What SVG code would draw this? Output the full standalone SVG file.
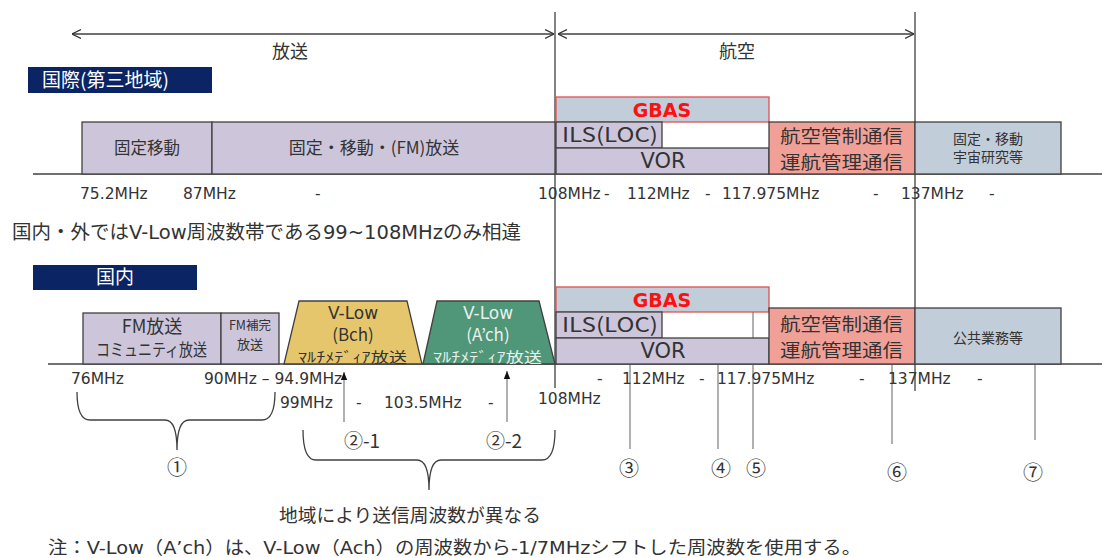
<svg xmlns="http://www.w3.org/2000/svg" width="1102" height="558" viewBox="0 0 1102 558">
<style>
text{font-family:"DejaVu Sans","Noto Sans CJK JP",sans-serif;fill:#333}
.jp{font-family:"Noto Sans CJK JP","DejaVu Sans",sans-serif}
.f{font-size:15.5px}
.m{text-anchor:middle}
.lav{fill:#cdc6da;stroke:#404040;stroke-width:1.3}
.sal{fill:#f0a096;stroke:#404040;stroke-width:1.3}
.blu{fill:#c2cdda;stroke:#404040;stroke-width:1.3}
.gbas{fill:#c2cdda;stroke:#e05050;stroke-width:1.3}
.gt{font-size:19px;font-weight:bold;fill:#ff1010;text-anchor:middle}
.navy{fill:#0a2464}
.ln{stroke:#404040;stroke-width:1.3;fill:none}
.thin{stroke:#707070;stroke-width:1.1;fill:none}
.cn{font-size:20px}
.atc{font-size:18px}
</style>
<defs>
<marker id="oa" viewBox="0 0 10 10" refX="10" refY="5" markerWidth="9" markerHeight="10" orient="auto-start-reverse" markerUnits="userSpaceOnUse">
<path d="M0,0 L10,5 L0,10" fill="none" stroke="#333" stroke-width="1.3"/>
</marker>
<marker id="ua" viewBox="0 0 10 10" refX="10" refY="5" markerWidth="8" markerHeight="8" orient="auto" markerUnits="userSpaceOnUse">
<path d="M0,1 L10,5 L0,9 Z" fill="#111"/>
</marker>
</defs>

<g id="connectors">
<line class="ln" x1="72" y1="34" x2="554" y2="34" marker-start="url(#oa)" marker-end="url(#oa)"/>
<line class="ln" x1="558" y1="34" x2="914" y2="34" marker-start="url(#oa)" marker-end="url(#oa)"/>
<line class="ln" x1="555" y1="12" x2="555" y2="388"/>
<line class="ln" x1="915" y1="12" x2="915" y2="391"/>
<line class="ln" x1="33" y1="174" x2="1102" y2="174"/>
<line class="ln" x1="48" y1="364" x2="1102" y2="364"/>
<path class="ln" d="M77,392 Q77,420 90,420 L165,420 Q177,420 177,450 Q177,420 189,420 L262,420 Q275,420 275,392"/>
<path class="ln" d="M303,430 Q303,460 316,460 L417,460 Q429,460 429,490 Q429,460 441,460 L542,460 Q555,460 555,430"/>
<line class="thin" x1="344" y1="422" x2="344" y2="372" marker-end="url(#ua)"/>
<line class="thin" x1="507" y1="422" x2="507" y2="371" marker-end="url(#ua)"/>
<line class="thin" x1="630" y1="449" x2="630" y2="332" marker-end="url(#ua)"/>
<line class="thin" x1="718" y1="449" x2="718" y2="352" marker-end="url(#ua)"/>
<line class="thin" x1="753" y1="449" x2="753" y2="297" marker-end="url(#ua)"/>
<line class="thin" x1="892" y1="444" x2="892" y2="356" marker-end="url(#ua)"/>
<line class="thin" x1="1035" y1="440" x2="1035" y2="352" marker-end="url(#ua)"/>
</g>

<g id="title-labels">
<text class="jp m" x="290" y="58" font-size="18">放送</text>
<text class="jp m" x="737" y="58" font-size="18">航空</text>
</g>

<g id="intl-tag">
<rect class="navy" x="28" y="67" width="184" height="26"/>
<text class="jp" x="42" y="87" font-size="19" style="fill:#fff">国際(第三地域)</text>
</g>

<g id="intl-fixed-mobile">
<rect class="lav" x="82" y="122" width="130" height="52"/>
<text class="jp m" x="147" y="154" font-size="16.5">固定移動</text>
</g>
<g id="intl-fm">
<rect class="lav" x="212" y="122" width="343" height="52"/>
<text class="jp m" x="374" y="154" font-size="17">固定・移動・(FM)放送</text>
</g>
<g id="intl-gbas">
<rect class="gbas" x="556" y="97" width="213" height="25"/>
<text class="gt" x="662" y="117">GBAS</text>
</g>
<g id="intl-ils">
<rect class="lav" x="556" y="122" width="106" height="26"/>
<text class="jp" x="562" y="142" font-size="20" textLength="96" lengthAdjust="spacingAndGlyphs">ILS(LOC)</text>
</g>
<g id="intl-vor">
<rect class="lav" x="556" y="148" width="213" height="26"/>
<text class="m" x="663" y="168" font-size="21">VOR</text>
</g>
<g id="intl-atc">
<rect class="sal" x="769" y="122" width="146" height="52"/>
<text class="jp atc" x="780" y="143" textLength="123" lengthAdjust="spacingAndGlyphs">航空管制通信</text>
<text class="jp atc" x="780" y="169" textLength="123" lengthAdjust="spacingAndGlyphs">運航管理通信</text>
</g>
<g id="intl-space">
<rect class="blu" x="915" y="122" width="146" height="52"/>
<text class="jp m" x="988" y="144" font-size="14">固定・移動</text>
<text class="jp m" x="988" y="162" font-size="14">宇宙研究等</text>
</g>

<g id="intl-freqs">
<text class="f" x="80" y="199">75.2MHz</text>
<text class="f" x="183" y="199">87MHz</text>
<text class="f" x="315" y="199">-</text>
<text class="f" x="538" y="199">108MHz</text>
<text class="f" x="604" y="199">-</text>
<text class="f" x="627" y="199">112MHz</text>
<text class="f" x="705" y="199">-</text>
<text class="f" x="722" y="199">117.975MHz</text>
<text class="f" x="873" y="199">-</text>
<text class="f" x="901" y="199">137MHz</text>
<text class="f" x="989" y="199">-</text>
</g>

<g id="note-diff">
<text x="12" y="239" font-size="19" textLength="509" lengthAdjust="spacingAndGlyphs">国内・外ではV-Low周波数帯である99~108MHzのみ相違</text>
</g>

<g id="dom-tag">
<rect class="navy" x="33" y="265" width="164" height="25"/>
<text class="jp m" x="115" y="284" font-size="19" style="fill:#fff">国内</text>
</g>

<g id="dom-fm">
<rect class="lav" x="83" y="313" width="138" height="51"/>
<text class="jp m" x="152" y="333" font-size="18">FM放送</text>
<text class="jp" x="96" y="356" font-size="17" textLength="111" lengthAdjust="spacingAndGlyphs">コミュニティ放送</text>
</g>
<g id="dom-fm-comp">
<rect class="lav" x="221" y="313" width="58" height="51"/>
<text class="jp m" x="250" y="330" font-size="12.5">FM補完</text>
<text class="jp m" x="250" y="349" font-size="13">放送</text>
</g>
<g id="dom-vlow-b">
<path d="M284,364 L299,301 L407,301 L422,364 Z" fill="#e6c66c" stroke="#404040" stroke-width="1.3"/>
<text class="m" x="353" y="319" font-size="17">V-Low</text>
<text class="m jp" x="353" y="341" font-size="17">(Bch)</text>
<text class="jp" x="298" y="362" font-size="14" textLength="109" lengthAdjust="spacingAndGlyphs">ﾏﾙﾁﾒﾃﾞｨｱ放送</text>
</g>
<g id="dom-vlow-a">
<path d="M423,364 L437,301 L539,301 L555,364 Z" fill="#509678" stroke="#404040" stroke-width="1.3"/>
<text class="m" x="488" y="319" font-size="17" style="fill:#e8f1ec">V-Low</text>
<text class="m jp" x="488" y="341" font-size="17" style="fill:#e8f1ec">(A’ch)</text>
<text class="jp" x="433" y="362" font-size="14" textLength="109" lengthAdjust="spacingAndGlyphs" style="fill:#e8f1ec">ﾏﾙﾁﾒﾃﾞｨｱ放送</text>
</g>
<g id="dom-gbas">
<rect class="gbas" x="556" y="287" width="213" height="25"/>
<text class="gt" x="662" y="307">GBAS</text>
</g>
<g id="dom-ils">
<rect class="lav" x="556" y="312" width="106" height="26"/>
<text class="jp" x="562" y="332" font-size="20" textLength="96" lengthAdjust="spacingAndGlyphs">ILS(LOC)</text>
</g>
<g id="dom-vor">
<rect class="lav" x="556" y="338" width="213" height="26"/>
<text class="m" x="663" y="358" font-size="21">VOR</text>
</g>
<g id="dom-atc">
<rect class="sal" x="769" y="308" width="146" height="56"/>
<text class="jp atc" x="780" y="331" textLength="123" lengthAdjust="spacingAndGlyphs">航空管制通信</text>
<text class="jp atc" x="780" y="357" textLength="123" lengthAdjust="spacingAndGlyphs">運航管理通信</text>
</g>
<g id="dom-public">
<rect class="blu" x="915" y="308" width="146" height="56"/>
<text class="jp m" x="988" y="343" font-size="14">公共業務等</text>
</g>

<g id="dom-freqs">
<text class="f" x="71" y="384">76MHz</text>
<text class="f" x="204" y="384">90MHz – 94.9MHz</text>
<text class="f" x="597" y="384">-</text>
<text class="f" x="622" y="384">112MHz</text>
<text class="f" x="699" y="384">-</text>
<text class="f" x="717" y="384">117.975MHz</text>
<text class="f" x="859" y="384">-</text>
<text class="f" x="888" y="384">137MHz</text>
<text class="f" x="977" y="384">-</text>
<text class="f" x="280" y="408">99MHz</text>
<text class="f" x="356" y="408">-</text>
<text class="f" x="384" y="408">103.5MHz</text>
<text class="f" x="488" y="408">-</text>
<text class="f" x="538" y="404">108MHz</text>
</g>

<g id="markers">
<text class="jp m cn" x="177" y="475">①</text>
<text class="jp m" x="362" y="448" font-size="19">②-1</text>
<text class="jp m" x="504" y="448" font-size="19">②-2</text>
<text class="jp m cn" x="629" y="476">③</text>
<text class="jp m cn" x="721" y="476">④</text>
<text class="jp m cn" x="756" y="476">⑤</text>
<text class="jp m cn" x="897" y="480">⑥</text>
<text class="jp m cn" x="1033" y="480">⑦</text>
</g>

<g id="notes">
<text class="jp" x="279" y="522" font-size="18.5" textLength="262" lengthAdjust="spacingAndGlyphs">地域により送信周波数が異なる</text>
<text x="48" y="554" font-size="18" textLength="813" lengthAdjust="spacingAndGlyphs">注：V-Low（A’ch）は、V-Low（Ach）の周波数から-1/7MHzシフトした周波数を使用する。</text>
</g>
</svg>
